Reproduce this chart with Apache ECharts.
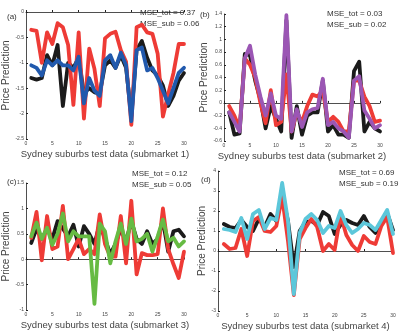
<!DOCTYPE html>
<html>
<head>
<meta charset="utf-8">
<script src="https://cdn.jsdelivr.net/npm/echarts@6/dist/echarts.min.js"></script>
<style>
  html, body { margin: 0; padding: 0; background: #fff; }
  #main { width: 415px; height: 332px; }
</style>
</head>
<body>
<div id="main"></div>
<script>
// test points (x axis)
var xs = [1, 2, 3, 4, 5, 6, 7, 8, 9, 10, 11, 12, 13, 14, 15, 16, 17, 18, 19, 20, 21, 22, 23, 24, 25, 26, 27, 28, 29, 30];

// submarket 1
var a_black = [-1.3, -1.33, -1.3, -0.85, -1.05, -0.65, -1.85, -1.0, -1.1, -0.9, -1.6, -1.5, -1.58, -1.6, -1.05, -0.95, -1.1, -0.85, -1.1, -2.05, -0.75, -0.57, -0.9, -1.15, -1.25, -1.45, -1.85, -1.65, -1.35, -1.2];
var a_red = [-0.35, -0.37, -1.0, -0.4, -0.63, -0.22, -0.3, -0.65, -1.83, -0.4, -2.1, -0.72, -1.12, -1.85, -0.52, -0.43, -0.39, -0.75, -0.98, -2.22, -0.3, -0.25, -0.4, -0.43, -0.82, -2.06, -1.62, -1.2, -0.63, -0.63];
var a_blue = [-1.05, -1.1, -1.25, -0.95, -1.05, -0.95, -1.05, -1.05, -1.15, -0.88, -1.8, -1.3, -1.55, -1.65, -0.95, -0.85, -1.1, -0.8, -1.05, -2.15, -0.75, -0.7, -1.15, -1.1, -1.3, -1.55, -1.8, -1.5, -1.2, -1.1];

// submarket 2
var b_black = [-0.15, -0.5, -0.48, 0.77, 0.75, 0.35, 0.05, -0.4, -0.05, -0.25, -0.45, 1.3, -0.55, -0.05, -0.5, -0.2, -0.15, -0.15, 0.35, -0.45, -0.35, -0.5, -0.5, -0.55, 0.5, 0.65, -0.45, -0.3, -0.4, -0.45];
var b_red = [-0.05, -0.2, -0.4, 0.7, 0.6, 0.4, 0.0, -0.32, 0.2, -0.35, -0.3, 0.45, -0.45, -0.15, -0.3, -0.05, 0.13, 0.1, 0.2, -0.3, -0.22, -0.3, -0.45, -0.45, 0.35, 0.35, 0.1, -0.05, -0.3, -0.28];
var b_purple = [-0.15, -0.3, -0.45, 0.7, 0.9, 0.45, 0.1, -0.2, 0.15, -0.2, -0.25, 1.38, -0.45, -0.1, -0.38, -0.15, -0.1, -0.08, 0.38, -0.35, -0.3, -0.4, -0.45, -0.55, 0.35, 0.42, -0.12, -0.25, -0.4, -0.35];

// submarket 3
var c_black = [0.32, 0.6, 0.4, 0.6, 0.4, 0.75, 0.6, 0.45, 0.68, 0.25, 0.65, 0.5, 0.3, 0.7, 0.4, 0.1, 0.3, 0.6, 0.35, 0.75, 0.4, 0.3, 0.55, 0.3, 0.4, 0.75, 0.15, 0.55, 0.58, 0.45];
var c_red = [0.42, 0.93, -0.02, 0.85, 0.2, 0.25, 1.05, 0.0, 0.2, 0.4, 0.1, 0.2, 0.1, 0.88, 0.3, 0.05, 0.05, 0.85, -0.08, 1.15, -0.3, 0.12, 0.08, 0.08, 0.1, 1.0, 0.2, -0.1, -0.37, 0.15];
var c_green = [0.45, 0.72, 0.4, 0.62, 0.28, 0.5, 0.9, 0.35, 0.55, 0.45, 0.45, 0.45, -0.88, 0.7, 0.55, -0.08, 0.35, 0.7, 0.3, 0.8, 0.35, 0.4, 0.5, 0.15, 0.45, 0.78, 0.35, 0.42, 0.25, 0.35];

// submarket 4
var d_black = [1.35, 1.2, 1.15, 1.55, 1.2, 1.0, 1.6, 1.2, 1.85, 1.5, 2.8, 1.5, -0.8, 1.0, 1.45, 1.5, 1.3, 1.95, 1.75, 0.85, 1.3, 1.55, 1.4, 1.3, 1.75, 1.2, 0.9, 1.4, 1.9, 1.05];
var d_red = [0.35, 0.1, 0.15, 1.1, -0.25, 1.5, 1.7, 1.0, 0.95, 1.25, 2.7, 0.5, -2.2, 0.6, 1.15, 1.6, 1.2, 0.0, 0.35, 0.05, 1.8, 0.8, 0.3, 0.0, 0.75, 0.45, 0.35, 1.25, 1.7, -0.1];
var d_cyan = [1.1, 1.05, 0.95, 1.65, 0.6, 1.85, 2.05, 1.1, 1.65, 1.55, 3.4, 1.5, -2.15, 0.9, 1.6, 1.85, 1.55, 0.9, 1.25, 1.15, 2.0, 1.3, 0.9, 1.1, 1.4, 1.3, 1.05, 1.55, 2.05, 0.85];

var xTitles = ['Sydney suburbs test data (submarket 1)', 'Sydney suburbs test data (submarket 2)',
               'Sydney suburbs test data (submarket 3)', 'Sydney suburbs test data (submarket 4)'];
var mseTot = ['0.37', '0.03', '0.12', '0.69'];
var mseSub = ['0.06', '0.02', '0.05', '0.19'];
var panelTags = ['(a)', '(b)', '(c)', '(d)'];
var yRanges = [[-2.5, 0, 0.5], [-0.6, 1.4, 0.2], [-1, 1.5, 0.5], [-3, 4, 1]];

var BLACK = '#1b1b1b', RED = '#ee3b36';
var panels = [
    {black: a_black, red: a_red, own: a_blue, color: '#2159ad'},
    {black: b_black, red: b_red, own: b_purple, color: '#9b56b4'},
    {black: c_black, red: c_red, own: c_green, color: '#66bb43'},
    {black: d_black, red: d_red, own: d_cyan, color: '#5cc7da'}
];

var grids = [
    {left: 26, top: 12, width: 158, height: 127},
    {left: 224, top: 14, width: 156, height: 127},
    {left: 26, top: 183, width: 158, height: 127},
    {left: 218, top: 171, width: 175, height: 141}
];

function pairs(vals) {
    var res = [];
    for (var i = 0; i < xs.length; i++) res.push([xs[i], vals[i]]);
    return res;
}

var xAxes = [], yAxes = [], series = [], graphics = [];
var axisStyle = {lineStyle: {color: '#222', width: 0.8}};
var labelStyle = {fontSize: 5, color: '#444', margin: 2, fontFamily: 'Liberation Sans'};

grids.forEach(function (g, k) {
    xAxes.push({
        type: 'value', gridIndex: k, min: 0, max: 30, interval: 5,
        axisLine: axisStyle, axisTick: {inside: true, length: 2, lineStyle: {color: '#222'}},
        axisLabel: labelStyle, splitLine: {show: false},
        name: xTitles[k], nameLocation: 'middle', nameGap: 10,
        nameTextStyle: {fontSize: 9.5, color: '#444', fontFamily: 'Liberation Sans'}
    });
    var r = yRanges[k];
    yAxes.push({
        type: 'value', gridIndex: k, min: r[0], max: r[1], interval: r[2],
        axisLine: {show: true, lineStyle: {color: '#222', width: 0.8}},
        axisTick: {show: true, inside: true, length: 2, lineStyle: {color: '#222'}},
        axisLabel: labelStyle, splitLine: {show: false},
        name: 'Price Prediction', nameLocation: 'middle', nameGap: 11,
        nameTextStyle: {fontSize: 10, color: '#444', fontFamily: 'Liberation Sans'}
    });
    var p = panels[k];
    [[p.black, BLACK], [p.red, RED], [p.own, p.color]].forEach(function (s) {
        series.push({
            type: 'line', xAxisIndex: k, yAxisIndex: k, data: pairs(s[0]),
            symbol: 'none', silent: true, animation: false,
            lineStyle: {color: s[1], width: 3.8, join: 'round', cap: 'round'}
        });
    });
});

// MSE annotations and panel tags
var msePos = [[140, 7], [327, 8], [132, 168], [339, 167]];
var tagPos = [[7, 13], [200, 11], [7, 178], [201, 176]];
msePos.forEach(function (pos, k) {
    graphics.push({
        type: 'text', left: pos[0], top: pos[1],
        style: {text: 'MSE_tot = ' + mseTot[k] + '\nMSE_sub = ' + mseSub[k],
                fontSize: 8, lineHeight: 11, fill: '#333', fontFamily: 'Liberation Sans'}
    });
    graphics.push({
        type: 'text', left: tagPos[k][0], top: tagPos[k][1],
        style: {text: panelTags[k], fontSize: 8, fill: '#333', fontFamily: 'Liberation Sans'}
    });
});

var myChart = echarts.init(document.getElementById('main'));
myChart.setOption({
    backgroundColor: '#fff',
    animation: false,
    grid: grids,
    xAxis: xAxes,
    yAxis: yAxes,
    series: series,
    graphic: graphics
});
</script>
</body>
</html>
